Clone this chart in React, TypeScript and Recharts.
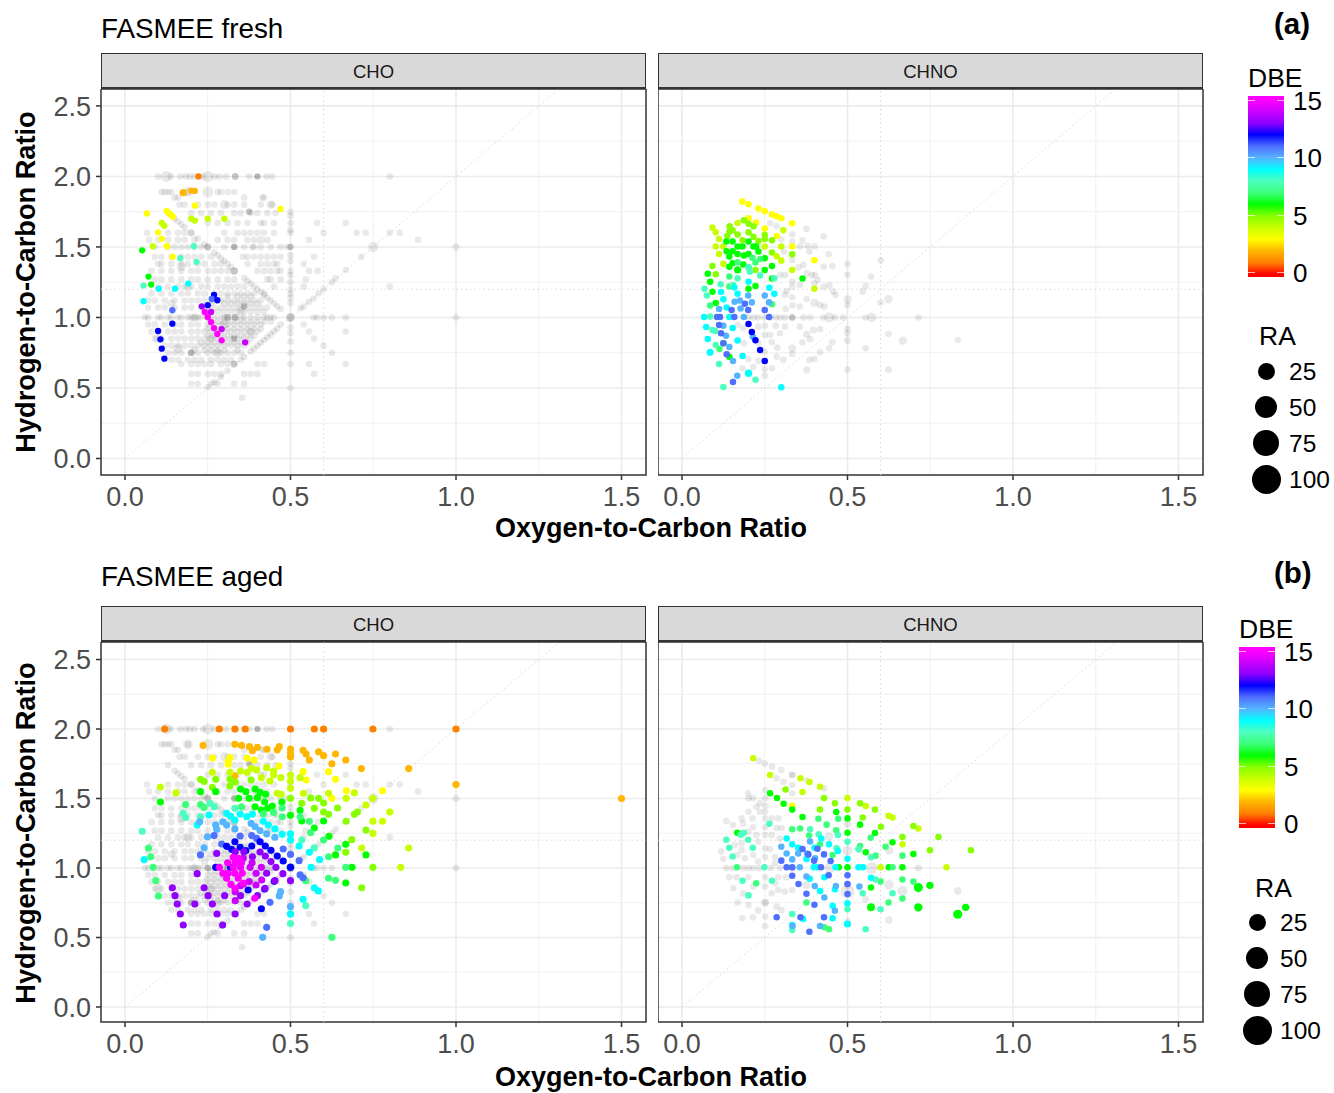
import * as React from "react"
import {
  ScatterChart,
  Scatter,
  XAxis,
  YAxis,
  CartesianGrid,
  ReferenceLine,
  ReferenceArea,
} from "recharts"

const choGreyRows: [number, number[]][] = [
  [2.0, [0.1, 0.138, 0.167, 0.184, 0.196, 0.21, 0.236, 0.27, 0.285, 0.305, 0.375, 0.4, 0.428, 0.445, 0.8]],
  [1.89, [0.11, 0.12, 0.13, 0.14, 0.19, 0.28, 0.29, 0.31, 0.33]],
  [1.85, [0.15, 0.16, 0.36, 0.42, 0.415]],
  [1.8, [0.165, 0.18, 0.22, 0.25, 0.27, 0.31, 0.33, 0.36, 0.445, 0.41]],
  [1.74, [0.2, 0.23, 0.26, 0.29, 0.33, 0.35, 0.38, 0.4, 0.43, 0.455]],
  [1.67, [0.25, 0.28, 0.31, 0.34, 0.37, 0.41, 0.42, 0.45, 0.58, 0.667]],
  [1.6, [0.067, 0.13, 0.16, 0.18, 0.3, 0.34, 0.36, 0.38, 0.4, 0.42, 0.45, 0.6, 0.7, 0.727, 0.83]],
  [1.55, [0.073, 0.1, 0.13, 0.16, 0.18, 0.21, 0.28, 0.31, 0.33, 0.37, 0.39, 0.43, 0.556, 0.885]],
  [1.5, [0.09, 0.13, 0.15, 0.17, 0.19, 0.21, 0.23, 0.3, 0.33, 0.36, 0.385, 0.39, 0.41, 0.44, 0.47, 0.49]],
  [1.43, [0.09, 0.11, 0.14, 0.17, 0.19, 0.21, 0.23, 0.26, 0.356, 0.37, 0.39, 0.41, 0.43, 0.45, 0.47, 0.571]],
  [1.38, [0.1, 0.11, 0.14, 0.17, 0.19, 0.22, 0.24, 0.27, 0.29, 0.37, 0.41, 0.43, 0.45, 0.46, 0.54]],
  [1.33, [0.08, 0.11, 0.14, 0.17, 0.2, 0.22, 0.25, 0.27, 0.29, 0.31, 0.4, 0.42, 0.44, 0.46, 0.47, 0.556, 0.582]],
  [1.27, [0.09, 0.11, 0.14, 0.17, 0.2, 0.22, 0.25, 0.28, 0.31, 0.33, 0.43, 0.44, 0.47, 0.546]],
  [1.22, [0.1, 0.13, 0.16, 0.18, 0.2, 0.23, 0.25, 0.28, 0.3, 0.32, 0.34, 0.36, 0.45, 0.54, 0.8]],
  [1.17, [0.08, 0.11, 0.14, 0.17, 0.19, 0.22, 0.24, 0.27, 0.29, 0.31, 0.33, 0.35, 0.37, 0.39, 0.42]],
  [1.12, [0.07, 0.09, 0.12, 0.15, 0.18, 0.2, 0.22, 0.24, 0.27, 0.29, 0.31, 0.33, 0.35, 0.37, 0.39, 0.41]],
  [1.07, [0.07, 0.1, 0.12, 0.15, 0.18, 0.2, 0.23, 0.25, 0.27, 0.29, 0.31, 0.33, 0.35, 0.37, 0.39, 0.41, 0.43]],
  [1.0, [0.06, 0.07, 0.1, 0.11, 0.13, 0.14, 0.16, 0.17, 0.19, 0.2, 0.21, 0.22, 0.23, 0.25, 0.27, 0.29, 0.3, 0.31, 0.33, 0.35, 0.36, 0.38, 0.4, 0.42, 0.43, 0.44, 0.45, 0.57, 0.58, 0.6, 0.625, 0.667, 1.0]],
  [0.95, [0.07, 0.09, 0.12, 0.15, 0.17, 0.2, 0.22, 0.25, 0.27, 0.29, 0.31, 0.33, 0.35, 0.37, 0.39, 0.41, 0.54]],
  [0.9, [0.08, 0.1, 0.13, 0.15, 0.17, 0.2, 0.22, 0.24, 0.26, 0.28, 0.3, 0.32, 0.34, 0.36, 0.38, 0.4, 0.556, 0.667]],
  [0.85, [0.09, 0.11, 0.14, 0.16, 0.18, 0.2, 0.22, 0.24, 0.26, 0.28, 0.3, 0.32, 0.34, 0.36, 0.38, 0.571]],
  [0.8, [0.12, 0.14, 0.16, 0.18, 0.2, 0.22, 0.24, 0.26, 0.28, 0.3, 0.32, 0.34, 0.36, 0.6]],
  [0.75, [0.13, 0.15, 0.17, 0.2, 0.22, 0.25, 0.27, 0.29, 0.31, 0.33, 0.35, 0.625]],
  [0.7, [0.14, 0.16, 0.19, 0.21, 0.23, 0.26, 0.28, 0.3, 0.32]],
  [0.67, [0.17, 0.2, 0.22, 0.24, 0.26, 0.29, 0.31, 0.4, 0.42, 0.556, 0.667]],
  [0.6, [0.2, 0.22, 0.25, 0.27, 0.29, 0.36, 0.38, 0.4, 0.571]],
  [0.53, [0.2, 0.22, 0.26, 0.28, 0.33, 0.36]],
  [0.43, [0.354]],
  // the dense core around O/C 0.33, H/C 1.0
  [1.15, [0.31, 0.34, 0.36, 0.38]],
  [1.1, [0.26, 0.3, 0.32, 0.34, 0.36, 0.38, 0.4]],
  [1.04, [0.24, 0.28, 0.3, 0.32, 0.34, 0.36, 0.38, 0.4, 0.42]],
  [0.97, [0.26, 0.28, 0.3, 0.32, 0.34, 0.36, 0.38, 0.4, 0.42, 0.44]],
  [0.92, [0.25, 0.27, 0.29, 0.31, 0.33, 0.35, 0.37, 0.39, 0.41]],
  [0.87, [0.25, 0.27, 0.29, 0.31, 0.33, 0.35, 0.37, 0.39]],
  [0.82, [0.23, 0.25, 0.27, 0.29, 0.31, 0.33, 0.35, 0.37]],
  [0.77, [0.21, 0.24, 0.26, 0.28, 0.3, 0.34]],
]

// molecules along the H/C = 2 - 2 O/C ridge and the H/C = 2 O/C ray
const choGreyRidge: [number, number][] = [
  [0.13, 1.74], [0.15, 1.7], [0.16, 1.68], [0.17, 1.66], [0.18, 1.64], [0.2, 1.6], [0.22, 1.56], [0.24, 1.52],
  [0.27, 1.46], [0.28, 1.44], [0.29, 1.42], [0.3, 1.4], [0.31, 1.38], [0.32, 1.36], [0.36, 1.28], [0.37, 1.26],
  [0.38, 1.24], [0.39, 1.22], [0.4, 1.2], [0.41, 1.18], [0.42, 1.16], [0.43, 1.14], [0.44, 1.12], [0.45, 1.1],
  [0.46, 1.08], [0.47, 1.06], [0.25, 0.505], [0.27, 0.54], [0.29, 0.58], [0.31, 0.62], [0.35, 0.7], [0.36, 0.72],
  [0.38, 0.76], [0.39, 0.78], [0.4, 0.8], [0.41, 0.82], [0.42, 0.84], [0.43, 0.86], [0.44, 0.88], [0.45, 0.9],
  [0.46, 0.92], [0.47, 0.95], [0.53, 1.065], [0.54, 1.077], [0.555, 1.11], [0.57, 1.135], [0.585, 1.17],
  [0.6, 1.2], [0.625, 1.25], [0.636, 1.278], [0.667, 1.337], [0.714, 1.43], [0.8, 1.6],
  [0.5, 1.75], [0.5, 1.72], [0.5, 1.67], [0.5, 1.62], [0.5, 1.6], [0.5, 1.44], [0.5, 1.4], [0.5, 1.33],
  [0.5, 1.3], [0.5, 1.25], [0.5, 1.2], [0.5, 1.17], [0.5, 1.14], [0.5, 1.1], [0.5, 0.93], [0.5, 0.89],
  [0.5, 0.83], [0.5, 0.75], [0.5, 0.67], [0.5, 0.5],
]

// [x, y, ra] for the wider grey circles
const choGreyBig: [number, number, number][] = [
  [0.125, 2.0, 6], [0.25, 2.0, 6], [0.19, 1.89, 4], [0.25, 1.89, 6], [0.3, 1.8, 3], [0.75, 1.5, 5], [0.2, 1.6, 1],
  [0.17, 1.36, 3], [0.19, 1.22, 2], [0.3, 0.95, 3], [0.28, 0.75, 2], [0.16, 0.78, 3], [0.1, 0.85, 3], [1.0, 1.5, 0.6],
  [0.21, 1.0, 2], [0.35, 1.05, 2], [0.38, 0.9, 1.5], [0.26, 0.85, 1.5], [0.41, 1.55, 1.5], [0.44, 1.8, 2], [0.14, 1.1, 1.5],
]

// darker grey spots, many formulas stacked on one ratio
const choGreyDark: [number, number, number][] = [
  [0.5, 1.0, 2], [0.33, 1.33, 1], [0.25, 1.5, 0.6], [0.5, 1.5, 0.3], [0.33, 0.67, 0.6], [0.333, 2.0, 0.5],
  [0.4, 2.0, 0.2], [0.33, 1.5, 0.3], [0.375, 1.75, 0.4], [0.333, 1.0, 0.5], [0.31, 1.0, 0.5],
  [0.25, 1.0, 0.3], [0.36, 1.08, 0.4], [0.33, 0.85, 0.4], [0.2, 0.75, 0.5],
]

// [x, y, dbe, ra?]
const freshChoColored: number[][] = [
  [0.222, 2.0, 1], [0.176, 1.885, 2, 0.8], [0.2, 1.9, 2], [0.211, 1.897, 2], [0.211, 1.793, 3], [0.066, 1.737, 3],
  [0.126, 1.755, 3], [0.133, 1.737, 3], [0.139, 1.725, 3], [0.145, 1.715, 3], [0.2, 1.7, 4], [0.211, 1.687, 4],
  [0.25, 1.7, 4], [0.3, 1.7, 4], [0.47, 1.77, 3], [0.111, 1.67, 4], [0.119, 1.65, 4], [0.1, 1.604, 3],
  [0.111, 1.557, 3], [0.084, 1.505, 4], [0.126, 1.505, 3], [0.052, 1.476, 6], [0.208, 1.505, 8], [0.144, 1.431, 3],
  [0.167, 1.42, 8], [0.216, 1.394, 8], [0.071, 1.29, 6], [0.079, 1.233, 6], [0.056, 1.226, 8], [0.102, 1.204, 9],
  [0.151, 1.204, 9], [0.191, 1.24, 9], [0.056, 1.115, 9], [0.143, 1.051, 11], [0.269, 1.16, 12], [0.262, 1.131, 11],
  [0.279, 1.122, 12], [0.25, 1.087, 12], [0.232, 1.079, 13], [0.241, 1.039, 15], [0.26, 1.039, 14], [0.25, 1.004, 15],
  [0.26, 0.966, 15], [0.269, 0.925, 15], [0.292, 0.918, 14], [0.279, 0.883, 15], [0.292, 0.838, 15], [0.363, 0.824, 14],
  [0.143, 0.956, 12], [0.1, 0.904, 12], [0.107, 0.845, 12], [0.111, 0.779, 12], [0.119, 0.708, 12],
]

const freshChnoColored: number[][] = [
  [0.182, 1.822, 3], [0.201, 1.803, 3], [0.231, 1.772, 3], [0.25, 1.753, 3], [0.272, 1.73, 3], [0.286, 1.717, 3],
  [0.3, 1.703, 3], [0.201, 1.703, 3], [0.224, 1.673, 3], [0.333, 1.668, 3], [0.25, 1.63, 3], [0.286, 1.578, 3],
  [0.092, 1.637, 4], [0.102, 1.604, 4], [0.112, 1.557, 4], [0.102, 1.504, 4], [0.112, 1.45, 4], [0.125, 1.38, 4],
  [0.092, 1.365, 5], [0.144, 1.646, 5], [0.153, 1.618, 5], [0.168, 1.67, 4], [0.187, 1.689, 5], [0.201, 1.665, 5],
  [0.216, 1.646, 5], [0.143, 1.608, 5], [0.137, 1.578, 5], [0.168, 1.588, 5], [0.201, 1.604, 5], [0.216, 1.573, 5],
  [0.231, 1.542, 5], [0.183, 1.547, 5], [0.25, 1.585, 5], [0.25, 1.557, 5], [0.272, 1.547, 5], [0.306, 1.618, 4],
  [0.125, 1.504, 4], [0.25, 1.504, 4], [0.3, 1.504, 4], [0.333, 1.504, 3], [0.333, 1.448, 5], [0.272, 1.46, 5],
  [0.286, 1.434, 4], [0.3, 1.403, 4], [0.333, 1.337, 4], [0.4, 1.405, 3], [0.4, 1.204, 4], [0.364, 1.276, 6],
  [0.134, 1.538, 6], [0.153, 1.538, 6], [0.168, 1.504, 6], [0.183, 1.504, 6], [0.201, 1.538, 6], [0.216, 1.504, 6],
  [0.224, 1.504, 6], [0.135, 1.469, 6], [0.153, 1.469, 6], [0.143, 1.432, 6], [0.168, 1.45, 6], [0.187, 1.44, 6],
  [0.231, 1.467, 6], [0.201, 1.45, 6], [0.25, 1.42, 6], [0.153, 1.384, 6], [0.143, 1.36, 6], [0.185, 1.375, 6],
  [0.168, 1.337, 6, 0.8], [0.25, 1.337, 6], [0.272, 1.365, 6], [0.222, 1.337, 5], [0.078, 1.31, 6], [0.085, 1.254, 6],
  [0.102, 1.306, 5], [0.092, 1.183, 6], [0.272, 1.276, 6], [0.222, 1.223, 6], [0.201, 1.204, 6], [0.102, 1.102, 6],
  [0.125, 0.817, 6], [0.143, 0.722, 6], [0.085, 1.084, 7], [0.168, 1.391, 7], [0.213, 1.424, 7], [0.222, 1.39, 7],
  [0.236, 1.415, 7], [0.201, 1.356, 8, 0.8], [0.205, 1.325, 8], [0.143, 1.29, 7], [0.168, 1.278, 8], [0.236, 1.297, 8],
  [0.279, 1.278, 8], [0.117, 1.235, 8], [0.068, 1.204, 8], [0.143, 1.219, 7], [0.155, 1.23, 8], [0.075, 1.155, 8],
  [0.085, 1.006, 8], [0.092, 0.911, 8], [0.1, 0.904, 8], [0.102, 0.805, 8], [0.113, 0.776, 7], [0.112, 0.67, 8],
  [0.222, 0.559, 8], [0.125, 0.507, 8], [0.272, 1.093, 7], [0.201, 1.254, 9], [0.158, 1.213, 9], [0.264, 1.21, 9],
  [0.168, 1.169, 9], [0.279, 1.169, 9], [0.118, 1.18, 9], [0.125, 1.13, 9], [0.135, 1.07, 9], [0.067, 1.004, 9],
  [0.143, 1.004, 9], [0.073, 0.933, 9], [0.153, 0.925, 9], [0.078, 0.847, 9], [0.168, 0.836, 9], [0.085, 0.753, 9, 0.8],
  [0.183, 0.727, 9], [0.201, 0.604, 9, 1], [0.3, 0.505, 9], [0.2, 1.155, 10], [0.25, 1.155, 10], [0.211, 1.107, 10],
  [0.263, 1.107, 10], [0.112, 1.06, 10], [0.177, 1.063, 10], [0.159, 1.112, 10], [0.175, 1.12, 10], [0.187, 1.004, 10],
  [0.125, 0.942, 10], [0.133, 0.87, 10], [0.143, 0.791, 10], [0.154, 0.691, 10], [0.167, 0.587, 10], [0.214, 0.864, 10],
  [0.19, 1.098, 11], [0.15, 1.053, 11], [0.2, 1.053, 11], [0.25, 1.053, 11], [0.106, 1.004, 11], [0.115, 1.004, 11],
  [0.158, 1.004, 11], [0.263, 1.004, 11], [0.112, 0.947, 11], [0.118, 0.888, 11], [0.125, 0.817, 11], [0.135, 0.739, 11],
  [0.154, 0.543, 11], [0.201, 0.954, 12], [0.211, 0.897, 12], [0.222, 0.838, 12], [0.236, 0.77, 12], [0.25, 0.691, 12],
]

const freshChnoGrey: number[][] = [
  [0.376, 1.628], [0.428, 1.575], [0.286, 1.646], [0.266, 1.668], [0.333, 1.59], [0.364, 1.547], [0.333, 1.538],
  [0.3, 1.555], [0.356, 1.504], [0.379, 1.509], [0.4, 1.504], [0.308, 1.467], [0.385, 1.467], [0.443, 1.448],
  [0.333, 1.407], [0.367, 1.372], [0.352, 1.355], [0.428, 1.36], [0.454, 1.365], [0.5, 1.38], [0.6, 1.405],
  [0.571, 1.29], [0.311, 1.3], [0.296, 1.3], [0.333, 1.254], [0.377, 1.313], [0.392, 1.3], [0.402, 1.3], [0.5, 1.303],
  [0.41, 1.266], [0.4, 1.242], [0.428, 1.218], [0.445, 1.228, 0.8], [0.457, 1.183], [0.464, 1.16], [0.555, 1.223],
  [0.546, 1.183], [0.333, 1.218], [0.356, 1.23], [0.316, 1.188], [0.333, 1.143], [0.377, 1.131], [0.4, 1.105, 1.5],
  [0.417, 1.089], [0.43, 1.077], [0.311, 1.16], [0.313, 1.06], [0.334, 1.086], [0.356, 1.077], [0.5, 1.129, 1.5],
  [0.5, 1.089], [0.624, 1.129, 2], [0.6, 1.105], [0.2, 1.0], [0.216, 1.0], [0.23, 1.0], [0.25, 1.0], [0.268, 1.0],
  [0.284, 1.0], [0.296, 1.0], [0.311, 1.0], [0.333, 1.0], [0.333, 1.0], [0.333, 1.0], [0.367, 1.0], [0.387, 1.0], [0.427, 1.0],
  [0.445, 1.0, 4], [0.462, 1.0], [0.487, 1.0], [0.555, 1.0], [0.573, 1.0, 3.5], [0.714, 1.0], [0.168, 0.947],
  [0.185, 0.925], [0.23, 0.935], [0.25, 0.942], [0.283, 0.942], [0.311, 0.935], [0.356, 0.935], [0.397, 0.911, 0.8],
  [0.417, 0.918], [0.5, 0.918], [0.5, 0.888], [0.5, 0.836, 1], [0.624, 0.883], [0.667, 0.836, 2], [0.377, 0.88, 1],
  [0.387, 0.845], [0.454, 0.824], [0.445, 0.782], [0.555, 0.782], [0.417, 0.753], [0.364, 0.824], [0.333, 0.782, 1.5],
  [0.333, 0.741], [0.25, 0.876], [0.266, 0.876], [0.296, 0.888], [0.187, 0.817], [0.231, 0.817], [0.271, 0.824],
  [0.288, 0.786], [0.25, 0.757], [0.286, 0.722], [0.306, 0.699], [0.2, 0.706], [0.231, 0.691], [0.183, 0.64],
  [0.215, 0.649], [0.25, 0.632], [0.272, 0.64], [0.25, 0.587], [0.377, 0.628, 0.8], [0.385, 0.699], [0.4, 0.706],
  [0.5, 0.63], [0.624, 0.63], [0.833, 0.84],
]

const agedChoColored: number[][] = [
  [0.12, 2.0, 1], [0.285, 2.0, 1], [0.332, 2.0, 1], [0.363, 2.0, 1], [0.5, 2.0, 1], [0.572, 2.0, 1], [0.6, 2.0, 1],
  [0.749, 2.0, 1], [1.0, 2.0, 1], [1.0, 1.6, 2], [1.5, 1.5, 2],
  [0.236, 1.882, 2], [0.332, 1.89, 2], [0.352, 1.882, 2], [0.376, 1.873, 2], [0.385, 1.844, 2], [0.4, 1.868, 2],
  [0.429, 1.854, 2], [0.466, 1.873, 2], [0.46, 1.849, 2], [0.5, 1.856, 2], [0.5, 1.825, 2], [0.5, 1.799, 2],
  [0.538, 1.847, 2], [0.547, 1.82, 2], [0.557, 1.777, 2], [0.585, 1.835, 2], [0.6, 1.808, 2], [0.636, 1.82, 2],
  [0.625, 1.75, 2], [0.667, 1.777, 2], [0.714, 1.715, 2], [0.857, 1.715, 2], [0.332, 1.664, 2],
  [0.264, 1.791, 3], [0.317, 1.794, 3], [0.312, 1.765, 3], [0.312, 1.746, 3], [0.369, 1.791, 3], [0.39, 1.777, 3],
  [0.465, 1.734, 3], [0.538, 1.693, 3], [0.547, 1.633, 3], [0.615, 1.693, 3], [0.636, 1.638, 3], [0.669, 1.556, 3],
  [0.625, 1.501, 3], [0.778, 1.556, 3], [0.693, 1.54, 4],
  [0.264, 1.688, 4], [0.317, 1.688, 4], [0.349, 1.698, 4], [0.369, 1.688, 4], [0.382, 1.717, 4], [0.398, 1.705, 4],
  [0.428, 1.722, 4], [0.412, 1.65, 4], [0.438, 1.626, 4], [0.449, 1.698, 4], [0.449, 1.669, 4], [0.471, 1.65, 4],
  [0.5, 1.669, 4], [0.5, 1.626, 4], [0.529, 1.65, 4], [0.154, 1.54, 4], [0.107, 1.583, 4], [0.5, 1.573, 4],
  [0.46, 1.537, 4], [0.472, 1.53, 4], [0.539, 1.537, 4], [0.615, 1.537, 4], [0.668, 1.501, 4], [0.749, 1.501, 4],
  [0.728, 1.453, 4], [0.8, 1.403, 4], [0.749, 1.249, 4], [0.833, 1.005, 4], [0.857, 1.144, 4], [0.715, 1.144, 4],
  [0.778, 1.336, 4], [0.749, 1.336, 4],
  [0.228, 1.638, 5], [0.239, 1.623, 5], [0.274, 1.638, 5], [0.264, 1.58, 5], [0.317, 1.638, 5], [0.333, 1.619, 5],
  [0.317, 1.59, 5], [0.381, 1.633, 5], [0.5, 1.501, 5], [0.534, 1.465, 5], [0.561, 1.504, 5], [0.585, 1.501, 5],
  [0.572, 1.429, 5], [0.6, 1.468, 5], [0.6, 1.403, 5], [0.615, 1.386, 5], [0.642, 1.432, 5], [0.702, 1.403, 5],
  [0.693, 1.386, 5], [0.668, 1.336, 5], [0.728, 1.273, 5], [0.685, 1.204, 5], [0.667, 1.113, 5], [0.715, 0.858, 5],
  [0.749, 1.005, 5],
  [0.228, 1.549, 6], [0.274, 1.549, 6], [0.349, 1.568, 6], [0.365, 1.549, 6], [0.393, 1.568, 6], [0.408, 1.544, 6],
  [0.425, 1.53, 6], [0.4, 1.506, 6], [0.375, 1.501, 6], [0.343, 1.501, 6], [0.107, 1.475, 6], [0.474, 1.475, 6],
  [0.422, 1.475, 6], [0.445, 1.446, 6], [0.393, 1.441, 6], [0.412, 1.417, 6], [0.431, 1.43, 6], [0.5, 1.379, 6],
  [0.529, 1.415, 6], [0.534, 1.338, 6], [0.6, 1.338, 6], [0.572, 1.288, 6], [0.616, 1.228, 6], [0.667, 1.17, 6],
  [0.728, 1.094, 6], [0.636, 1.094, 6], [0.686, 1.005, 6], [0.667, 0.892, 6],
  [0.183, 1.456, 7], [0.228, 1.456, 7], [0.239, 1.436, 7], [0.352, 1.441, 7], [0.418, 1.389, 7], [0.449, 1.4, 7],
  [0.475, 1.432, 7], [0.475, 1.369, 7], [0.529, 1.369, 7], [0.557, 1.336, 7], [0.561, 1.254, 7], [0.6, 1.201, 7],
  [0.643, 1.144, 7], [0.615, 1.081, 7], [0.667, 1.005, 7], [0.636, 0.911, 7], [0.615, 0.926, 7], [0.546, 0.909, 7],
  [0.093, 0.909, 7], [0.101, 0.799, 7], [0.085, 1.005, 7], [0.071, 1.144, 7], [0.078, 1.081, 7], [0.625, 0.501, 7],
  [0.052, 1.264, 8], [0.257, 1.465, 8], [0.27, 1.441, 8], [0.332, 1.429, 8], [0.176, 1.393, 8], [0.183, 1.364, 8],
  [0.228, 1.369, 8], [0.5, 0.6, 8], [0.546, 0.729, 8], [0.534, 1.201, 8], [0.572, 1.146, 8],
  [0.218, 1.309, 9], [0.254, 1.381, 9], [0.307, 1.393, 9], [0.319, 1.374, 9], [0.332, 1.345, 9], [0.348, 1.388, 9],
  [0.385, 1.388, 9], [0.368, 1.369, 9], [0.418, 1.336, 9], [0.433, 1.309, 9], [0.453, 1.281, 9], [0.475, 1.242, 9],
  [0.5, 1.201, 9], [0.5, 1.245, 9], [0.526, 1.158, 9], [0.557, 1.113, 9], [0.588, 1.06, 9], [0.562, 1.005, 9],
  [0.572, 0.858, 9], [0.584, 0.835, 9], [0.538, 0.775, 9], [0.058, 1.06, 9], [0.5, 0.669, 9, 1],
  [0.226, 1.333, 10], [0.274, 1.309, 10], [0.277, 1.278, 10], [0.296, 1.333, 10], [0.307, 1.309, 10], [0.332, 1.281, 10],
  [0.381, 1.321, 10], [0.393, 1.297, 10], [0.408, 1.269, 10], [0.428, 1.245, 10], [0.239, 1.146, 10], [0.249, 1.225, 10],
  [0.453, 1.221, 10], [0.5, 0.722, 10], [0.47, 0.83, 10], [0.466, 0.799, 10], [0.416, 0.501, 10],
  [0.228, 1.094, 11], [0.269, 1.233, 11], [0.348, 1.23, 11], [0.383, 1.233, 11], [0.398, 1.213, 11], [0.478, 1.137, 11],
  [0.5, 1.098, 11], [0.526, 1.053, 11], [0.529, 0.95, 11], [0.538, 0.93, 11], [0.438, 0.753, 11], [0.428, 0.573, 11],
  [0.292, 1.173, 11],
  [0.332, 1.189, 12], [0.383, 1.158, 12], [0.307, 1.156, 12], [0.322, 1.134, 12], [0.348, 1.149, 12], [0.365, 1.125, 12],
  [0.408, 1.189, 12], [0.424, 1.158, 12], [0.441, 1.127, 12], [0.46, 1.086, 12], [0.478, 1.05, 12], [0.5, 1.005, 12, 1],
  [0.274, 1.005, 12], [0.319, 1.005, 12], [0.372, 0.842, 12], [0.422, 0.849, 12], [0.451, 0.904, 12], [0.412, 0.707, 12],
  [0.277, 1.105, 13], [0.333, 1.117, 13], [0.359, 1.117, 13], [0.385, 1.081, 13], [0.408, 1.115, 13], [0.424, 1.086, 13],
  [0.441, 1.046, 13], [0.456, 1.005, 13], [0.428, 0.962, 13], [0.218, 0.959, 13], [0.477, 0.959, 13], [0.5, 0.909, 13],
  [0.453, 0.909, 13], [0.423, 0.854, 13], [0.143, 0.858, 13], [0.151, 0.801, 13], [0.158, 0.741, 13], [0.211, 0.741, 13],
  [0.167, 0.669, 13], [0.176, 0.59, 13], [0.239, 0.858, 13], [0.251, 0.801, 13], [0.264, 0.741, 13], [0.278, 0.669, 13],
  [0.301, 0.801, 13], [0.333, 0.669, 13], [0.295, 0.59, 13], [0.349, 0.801, 13], [0.4, 0.801, 13], [0.369, 0.741, 13],
  [0.357, 1.07, 14], [0.384, 1.038, 14], [0.412, 1.005, 14], [0.378, 1.005, 14], [0.396, 0.962, 14], [0.413, 0.914, 14],
  [0.396, 0.878, 14], [0.375, 0.902, 14], [0.358, 0.885, 14], [0.333, 0.765, 14], [0.333, 0.83, 14], [0.349, 0.873, 14],
  [0.327, 1.077, 15], [0.342, 1.07, 15], [0.31, 1.038, 15], [0.332, 1.038, 15], [0.352, 1.038, 15], [0.327, 1.005, 15],
  [0.349, 1.005, 15], [0.285, 1.005, 15], [0.296, 0.962, 15], [0.312, 0.962, 15], [0.332, 0.962, 15], [0.354, 0.962, 15],
  [0.307, 0.926, 15], [0.342, 0.926, 15], [0.32, 0.882, 15], [0.358, 0.89, 15], [0.333, 0.854, 15], [0.392, 0.782, 15],
]

const agedChnoColored: number[][] = [
  [0.215, 1.789, 4], [0.266, 1.669, 4], [0.358, 1.645, 4], [0.385, 1.619, 4], [0.417, 1.585, 4], [0.364, 1.547, 4],
  [0.5, 1.504, 4], [0.555, 1.446, 4], [0.624, 1.376, 4], [0.636, 1.364, 4], [0.714, 1.285, 4], [0.666, 1.17, 4],
  [0.799, 1.005, 4], [0.6, 1.005, 4], [0.333, 1.448, 3],
  [0.313, 1.564, 5], [0.429, 1.504, 5], [0.462, 1.465, 5], [0.538, 1.465, 5], [0.583, 1.42, 5], [0.417, 1.42, 5],
  [0.5, 1.42, 5], [0.546, 1.364, 5], [0.601, 1.297, 5], [0.699, 1.302, 5], [0.666, 1.223, 5], [0.775, 1.223, 5],
  [0.749, 1.127, 5], [0.873, 1.127, 5],
  [0.266, 1.537, 6], [0.287, 1.504, 6], [0.307, 1.463, 6], [0.333, 1.42, 6], [0.466, 1.403, 6], [0.5, 1.357, 6],
  [0.364, 1.367, 6], [0.538, 1.312, 6], [0.583, 1.252, 6], [0.5, 1.254, 6], [0.167, 1.254, 6], [0.636, 1.185, 6],
  [0.555, 1.113, 6], [0.699, 1.101, 6], [0.625, 1.005, 6], [0.666, 1.005, 6], [0.5, 1.005, 6], [0.474, 1.005, 6],
  [0.714, 0.859, 6, 3], [0.749, 0.875, 6, 1], [0.571, 0.859, 6], [0.714, 0.717, 6, 2], [0.571, 0.717, 6, 1.5],
  [0.857, 0.717, 6, 1], [0.833, 0.667, 6, 3],
  [0.412, 1.355, 7], [0.472, 1.355, 7], [0.437, 1.312, 7], [0.466, 1.271, 7], [0.384, 1.233, 7], [0.357, 1.285, 7],
  [0.333, 1.278, 7], [0.417, 1.17, 7], [0.455, 1.094, 7], [0.538, 1.158, 7], [0.57, 1.218, 7], [0.615, 1.153, 7],
  [0.585, 1.089, 7], [0.636, 1.005, 7], [0.666, 1.089, 7], [0.224, 0.89, 7], [0.666, 0.918, 7], [0.699, 0.902, 7],
  [0.6, 0.902, 7], [0.376, 0.751, 7], [0.624, 0.751, 7], [0.666, 0.78, 7], [0.43, 0.573, 7], [0.444, 0.559, 7],
  [0.166, 1.005, 7],
  [0.264, 1.319, 8], [0.177, 1.24, 8], [0.187, 1.254, 8], [0.2, 1.204, 8], [0.134, 1.204, 8], [0.143, 1.146, 8],
  [0.153, 1.082, 8], [0.214, 1.146, 8], [0.249, 1.005, 8], [0.183, 0.909, 8], [0.201, 0.803, 8], [0.272, 0.909, 8],
  [0.333, 0.669, 8], [0.333, 0.554, 8], [0.5, 0.703, 8], [0.555, 0.559, 8], [0.6, 0.703, 8], [0.636, 0.818, 8],
  [0.585, 0.918, 8], [0.546, 0.818, 8], [0.471, 1.237, 8], [0.5, 1.189, 8], [0.571, 1.077, 8], [0.533, 1.134, 8],
  [0.467, 1.142, 8], [0.387, 1.278, 8], [0.413, 1.242, 8],
  [0.316, 1.213, 9], [0.333, 1.17, 9], [0.351, 1.146, 9], [0.421, 1.213, 9], [0.444, 1.17, 9], [0.4, 1.146, 9],
  [0.471, 1.122, 9], [0.376, 1.065, 9], [0.398, 1.005, 9], [0.5, 1.067, 9], [0.409, 1.005, 9], [0.533, 1.005, 9],
  [0.547, 1.005, 9], [0.464, 1.005, 9], [0.571, 0.93, 9], [0.386, 0.923, 9], [0.43, 0.933, 9], [0.417, 0.835, 9],
  [0.462, 0.847, 9], [0.455, 0.729, 9], [0.5, 0.746, 9], [0.455, 0.638, 9], [0.366, 0.633, 9], [0.5, 0.597, 9, 0.8],
  [0.333, 0.59, 9],
  [0.3, 1.153, 10], [0.316, 1.105, 10], [0.333, 1.062, 10], [0.387, 1.19, 10], [0.351, 1.105, 10], [0.378, 1.105, 10],
  [0.402, 1.07, 10], [0.356, 1.005, 10], [0.376, 0.938, 10], [0.401, 0.87, 10], [0.43, 0.787, 10], [0.462, 0.693, 10],
  [0.536, 0.866, 10], [0.465, 0.87, 10], [0.334, 0.583, 10], [0.417, 0.583, 10],
  [0.364, 1.137, 11], [0.382, 1.098, 11], [0.409, 1.139, 11], [0.429, 1.098, 11], [0.399, 1.053, 11], [0.3, 1.053, 11],
  [0.316, 1.005, 11], [0.333, 1.005, 11], [0.42, 1.005, 11], [0.449, 1.05, 11], [0.443, 0.947, 11], [0.333, 0.945, 11],
  [0.352, 0.885, 11], [0.5, 0.947, 11], [0.5, 0.885, 11], [0.5, 0.813, 11], [0.376, 0.815, 11], [0.4, 0.736, 11],
  [0.286, 0.645, 11], [0.358, 0.645, 11], [0.429, 0.645, 11], [0.385, 0.542, 11],
]

const agedChnoGrey: number[][] = [
  [0.232, 1.772], [0.25, 1.751], [0.272, 1.729], [0.3, 1.705], [0.333, 1.669], [0.333, 1.669], [0.286, 1.645],
  [0.307, 1.621], [0.377, 1.631], [0.333, 1.597], [0.429, 1.573], [0.333, 1.537], [0.2, 1.537], [0.215, 1.501],
  [0.251, 1.561], [0.201, 1.501], [0.251, 1.501], [0.235, 1.465], [0.225, 1.441], [0.251, 1.448], [0.251, 1.405],
  [0.201, 1.405], [0.235, 1.405], [0.18, 1.357], [0.213, 1.357], [0.251, 1.357], [0.271, 1.357], [0.291, 1.357],
  [0.134, 1.338], [0.154, 1.309], [0.185, 1.321], [0.215, 1.293], [0.251, 1.293], [0.286, 1.288], [0.301, 1.288],
  [0.18, 1.237], [0.2, 1.261], [0.225, 1.237], [0.251, 1.237], [0.271, 1.237], [0.296, 1.213], [0.18, 1.177],
  [0.16, 1.165], [0.23, 1.189], [0.251, 1.141], [0.266, 1.137], [0.118, 1.118], [0.18, 1.129], [0.125, 1.067],
  [0.167, 1.094], [0.19, 1.07], [0.215, 1.094], [0.251, 1.077], [0.281, 1.077], [0.281, 1.034], [0.23, 1.046],
  [0.134, 1.0], [0.153, 1.0], [0.185, 1.0], [0.201, 1.0], [0.215, 1.0], [0.233, 1.0], [0.268, 1.0], [0.296, 1.0],
  [0.333, 1.0, 1], [0.333, 1.0], [0.447, 1.0, 6], [0.573, 1.0, 9], [0.714, 1.0, 0.8], [0.143, 0.933], [0.165, 0.933],
  [0.2, 0.933], [0.251, 0.933], [0.291, 0.933], [0.314, 0.933], [0.155, 0.854], [0.185, 0.818], [0.215, 0.866],
  [0.251, 0.866], [0.281, 0.89], [0.291, 0.842], [0.311, 0.83], [0.333, 0.842], [0.168, 0.751], [0.201, 0.734],
  [0.251, 0.751, 1.5], [0.251, 0.751], [0.271, 0.818], [0.23, 0.693], [0.286, 0.722], [0.301, 0.698], [0.251, 0.65],
  [0.182, 0.638], [0.214, 0.645], [0.251, 0.583], [0.5, 1.125, 5], [0.5, 0.83, 14], [0.625, 0.878, 4], [0.666, 0.835, 5],
  [0.833, 0.835, 1.2], [0.626, 1.125, 2], [0.376, 0.878, 1.5], [0.5, 0.878, 1], [0.444, 1.226, 2.5], [0.625, 0.626, 1],
  [0.5, 0.614, 0.8], [0.555, 0.775, 0.8], [0.5, 1.32, 1.5],
]

const xTicks = [0, 0.5, 1, 1.5]
const xMinor = [0.25, 0.75, 1.25]
const yTicks = [0, 0.5, 1, 1.5, 2, 2.5]
const yMinor = [0.25, 0.75, 1.25, 1.75, 2.25]
const dbeTicks = [15, 10, 5, 0]
const raLevels = [25, 50, 75, 100]

// R's rainbow(6) run through a Lab gradient, one entry per DBE unit
const dbePalette = [
  "#FF0000", "#FF7F00", "#FFB600", "#FFFF00", "#C8FF00", "#88FF00", "#00FF00", "#3CFF7A",
  "#4DFFBE", "#00FFFF", "#55B4FF", "#4F6FFF", "#0000FF", "#8F00FF", "#CC00FF", "#FF00FF",
]

const FONT = '"Liberation Sans", Arial, sans-serif'
const raDiameter = (ra: number) => 5 + 2.4 * Math.sqrt(ra)

const grey = (rows: number[][]) =>
  rows.map(([x, y, ra = 0.45]) => ({ x, y, ra }))
const colored = (rows: number[][], base: number) =>
  rows.map(([x, y, dbe, ra = base]) => ({ x, y, dbe, ra }))

const choGreyAll = [
  ...choGreyRows.flatMap(([y, xs]) => xs.map((x) => [x, y])),
  ...choGreyRidge,
  ...choGreyBig,
]

const GreyDot = (props: any) => (
  <circle
    cx={props.cx}
    cy={props.cy}
    r={raDiameter(props.payload.ra) / 2}
    fill="#3a3a3a"
    fillOpacity={0.115}
  />
)
const DarkDot = (props: any) => (
  <circle
    cx={props.cx}
    cy={props.cy}
    r={raDiameter(props.payload.ra) / 2}
    fill="#333333"
    fillOpacity={0.28}
  />
)
const ColorDot = (props: any) => (
  <circle
    cx={props.cx}
    cy={props.cy}
    r={raDiameter(props.payload.ra) / 2}
    fill={dbePalette[props.payload.dbe]}
  />
)

interface PanelProps {
  left: number
  top: number
  plotHeight: number
  strip: string
  showY: boolean
  yDomain: [number, number]
  greyRows: number[][]
  darkRows?: number[][]
  colorRows: number[][]
  baseRa: number
}

function Panel({ left, top, plotHeight, strip, showY, yDomain, greyRows, darkRows, colorRows, baseRa }: PanelProps) {
  const yAxisW = showY ? 61 : 0
  return (
    <>
      <div
        style={{
          position: "absolute",
          left,
          top: top - 36,
          width: 545,
          height: 36,
          boxSizing: "border-box",
          background: "#d9d9d9",
          border: "1.5px solid #333333",
          borderBottomWidth: 2,
          color: "#1a1a1a",
          fontFamily: FONT,
          fontSize: 18.5,
          textAlign: "center",
          lineHeight: "35px",
        }}
      >
        {strip}
      </div>
      <div style={{ position: "absolute", left: left - yAxisW, top }}>
        <ScatterChart
          width={545 + yAxisW + 12}
          height={plotHeight + 44}
          margin={{ top: 0, right: 12, bottom: 0, left: 0 }}
        >
          <CartesianGrid
            stroke="#f0f0f0"
            strokeWidth={1}
            horizontalValues={yMinor}
            verticalValues={xMinor}
          />
          <CartesianGrid
            stroke="#ebebeb"
            strokeWidth={1.6}
            horizontalValues={yTicks}
            verticalValues={xTicks}
          />
          <XAxis
            type="number"
            dataKey="x"
            domain={[-0.0725, 1.574]}
            ticks={xTicks}
            allowDataOverflow
            height={44}
            tickSize={5}
            tickMargin={7}
            interval={0}
            axisLine={false}
            tickLine={{ stroke: "#333333", strokeWidth: 1.5 }}
            tick={{ fill: "#4d4d4d", fontSize: 27, fontFamily: FONT }}
            tickFormatter={(v: number) => v.toFixed(1)}
          />
          <YAxis
            type="number"
            dataKey="y"
            domain={yDomain}
            ticks={yTicks}
            allowDataOverflow
            hide={!showY}
            width={yAxisW || 60}
            tickSize={5}
            tickMargin={5}
            interval={0}
            axisLine={false}
            tickLine={{ stroke: "#333333", strokeWidth: 1.5 }}
            tick={{ fill: "#4d4d4d", fontSize: 27, fontFamily: FONT }}
            tickFormatter={(v: number) => v.toFixed(1)}
          />
          <ReferenceLine y={1.2} stroke="#d9d9d9" strokeDasharray="1.5 3" strokeWidth={1} />
          <ReferenceLine x={0.6} stroke="#d9d9d9" strokeDasharray="1.5 3" strokeWidth={1} />
          <ReferenceLine
            segment={[
              { x: 0, y: 0 },
              { x: 1.31, y: 2.62 },
            ]}
            stroke="#d9d9d9"
            strokeDasharray="1.5 3"
            strokeWidth={1}
          />
          <Scatter data={grey(greyRows)} shape={GreyDot} isAnimationActive={false} />
          {darkRows && <Scatter data={grey(darkRows)} shape={DarkDot} isAnimationActive={false} />}
          <Scatter data={colored(colorRows, baseRa)} shape={ColorDot} isAnimationActive={false} />
          <ReferenceArea
            x1={-0.0725}
            x2={1.574}
            y1={yDomain[0]}
            y2={yDomain[1]}
            fill="none"
            stroke="#333333"
            strokeWidth={1.5}
          />
        </ScatterChart>
      </div>
    </>
  )
}

function Text({ x, y, size, bold, color, children, anchor = "left" }: any) {
  return (
    <div
      style={{
        position: "absolute",
        left: x,
        top: y,
        transform: `translate(${anchor === "center" ? "-50%" : "0"}, -50%)`,
        fontFamily: FONT,
        fontSize: size,
        fontWeight: bold ? 700 : 400,
        color: color || "#000",
        whiteSpace: "nowrap",
        lineHeight: 1,
      }}
    >
      {children}
    </div>
  )
}

function SideLegend({ x, y, dotX, raX, raTitleY, raY }: any) {
  const gradient = dbePalette.map((c, i) => `${c} ${((i / 15) * 96.5 + 1.5).toFixed(1)}%`).join(", ")
  return (
    <>
      <Text x={x} y={y - 18} size={26.5}>DBE</Text>
      <div
        style={{
          position: "absolute",
          left: x,
          top: y,
          width: 36,
          height: 181,
          background: `linear-gradient(to top, ${gradient})`,
        }}
      >
        {dbeTicks.map((t) => (
          <React.Fragment key={t}>
            <div style={{ position: "absolute", left: 0, width: 7, height: 1, background: "#fff", opacity: 0.7, bottom: (t / 15) * 172 + 4 }} />
            <div style={{ position: "absolute", right: 0, width: 7, height: 1, background: "#fff", opacity: 0.7, bottom: (t / 15) * 172 + 4 }} />
          </React.Fragment>
        ))}
      </div>
      {dbeTicks.map((t) => (
        <Text key={t} x={x + 45} y={y + 177 - (t / 15) * 172} size={26}>{t}</Text>
      ))}
      <Text x={raX} y={raTitleY} size={26.5}>RA</Text>
      {raLevels.map((r, i) => (
        <React.Fragment key={r}>
          <div
            style={{
              position: "absolute",
              left: dotX - raDiameter(r) / 2,
              top: raY + i * 36 - raDiameter(r) / 2,
              width: raDiameter(r),
              height: raDiameter(r),
              borderRadius: "50%",
              background: "#000",
            }}
          />
          <Text x={dotX + 23} y={raY + i * 36 + 1} size={24.5}>{r}</Text>
        </React.Fragment>
      ))}
    </>
  )
}

function YTitle({ cy }: { cy: number }) {
  return (
    <div
      style={{
        position: "absolute",
        left: 26,
        top: cy,
        transform: "translate(-50%, -50%) rotate(-90deg)",
        fontFamily: FONT,
        fontSize: 27.2,
        fontWeight: 700,
        whiteSpace: "nowrap",
      }}
    >
      Hydrogen-to-Carbon Ratio
    </div>
  )
}

export default function App() {
  const topDomain: [number, number] = [-0.117, 2.62]
  const botDomain: [number, number] = [-0.108, 2.626]
  return (
    <div style={{ position: "absolute", left: 0, top: 0, width: 1334, height: 1093, background: "#fff", overflow: "hidden" }}>
      <Text x={101} y={29} size={27.8}>FASMEE fresh</Text>
      <Text x={101} y={577} size={27.8}>FASMEE aged</Text>
      <Text x={1274} y={24} size={29.5} bold>(a)</Text>
      <Text x={1274} y={573} size={29.5} bold>(b)</Text>

      <Panel left={101} top={89} plotHeight={386} strip="CHO" showY yDomain={topDomain} greyRows={choGreyAll} darkRows={choGreyDark} colorRows={freshChoColored} baseRa={0.3} />
      <Panel left={658} top={89} plotHeight={386} strip="CHNO" showY={false} yDomain={topDomain} greyRows={freshChnoGrey} colorRows={freshChnoColored} baseRa={0.4} />
      <Panel left={101} top={642} plotHeight={380} strip="CHO" showY yDomain={botDomain} greyRows={choGreyAll} darkRows={choGreyDark} colorRows={agedChoColored} baseRa={0.8} />
      <Panel left={658} top={642} plotHeight={380} strip="CHNO" showY={false} yDomain={botDomain} greyRows={agedChnoGrey} colorRows={agedChnoColored} baseRa={0.4} />

      <YTitle cy={282} />
      <YTitle cy={833} />
      <Text x={651} y={528} size={27} bold anchor="center">Oxygen-to-Carbon Ratio</Text>
      <Text x={651} y={1077} size={27} bold anchor="center">Oxygen-to-Carbon Ratio</Text>

      <SideLegend x={1248} y={96} dotX={1266} raX={1259} raTitleY={336} raY={371} />
      <SideLegend x={1239} y={647} dotX={1257} raX={1255} raTitleY={888} raY={922} />
    </div>
  )
}
